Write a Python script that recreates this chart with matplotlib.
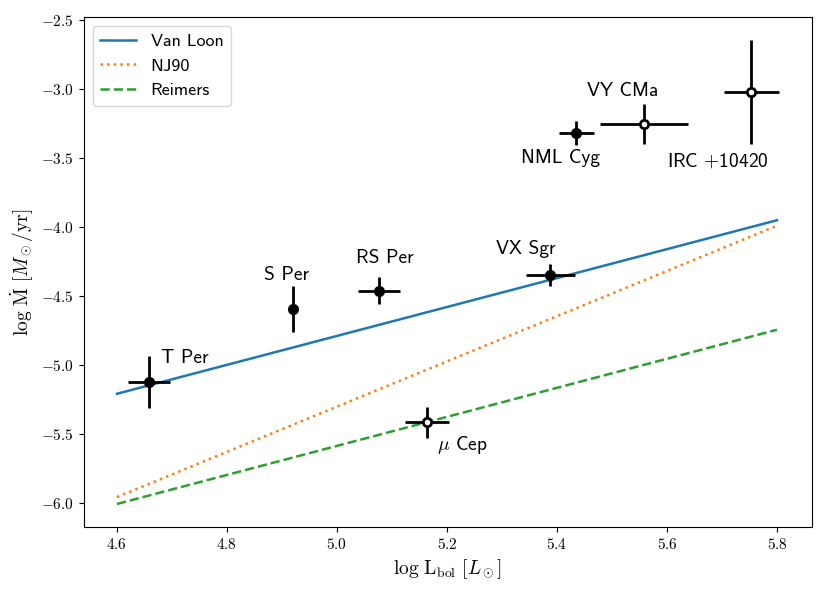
import numpy as np
import matplotlib
matplotlib.use('Agg')
import matplotlib.pyplot as plt
from matplotlib.ticker import FuncFormatter

plt.rcParams['mathtext.fontset'] = 'cm'

# mass loss prescriptions (end points at log L = 4.6 and 5.8)
line_x = [4.6, 5.8]
vanloon_y = [-5.21, -3.95]
nj90_y = [-5.96, -3.99]
reimers_y = [-6.01, -4.745]

# stars: name, log L, dlogL, log Mdot, dlogMdot, open marker?
names = ['T Per', 'S Per', 'RS Per', 'VX Sgr', r'$\mu$ Cep', 'NML Cyg', 'VY CMa', r'IRC $+$10420']
logL = [4.658, 4.920, 5.077, 5.388, 5.163, 5.435, 5.558, 5.753]
logL_err = [0.038, 0.006, 0.038, 0.045, 0.040, 0.032, 0.080, 0.050]
logM = [-5.123, -4.594, -4.461, -4.348, -5.418, -3.316, -3.254, -3.019]
logM_err = [0.187, 0.167, 0.100, 0.083, 0.115, 0.088, 0.146, 0.375]
is_open = [False, False, False, False, True, False, True, True]

# label positions and alignment
lab_x = [4.68, 4.909, 5.088, 5.343, 5.181, 5.406, 5.519, 5.693]
lab_y = [-4.949, -4.348, -4.225, -4.16, -5.58, -3.50, -3.01, -3.522]
lab_ha = ['left', 'center', 'center', 'center', 'left', 'center', 'center', 'center']

fig = plt.figure(figsize=(8.3, 5.91), dpi=100)
ax = fig.add_axes([0.101, 0.108, 0.877, 0.863])

ax.plot(line_x, vanloon_y, '-', color='tab:blue', lw=1.8, label='Van Loon')
ax.plot(line_x, nj90_y, ':', color='tab:orange', lw=1.8, label='NJ90')
ax.plot(line_x, reimers_y, '--', color='tab:green', lw=1.8, label='Reimers')

for i in range(len(names)):
	face = 'white' if is_open[i] else 'black'
	ax.errorbar(logL[i], logM[i], xerr=logL_err[i], yerr=logM_err[i], fmt='o',
				color='black', mfc=face, mec='black', mew=2, ms=6, elinewidth=2, capsize=0, zorder=3)
	ax.text(lab_x[i], lab_y[i], names[i], ha=lab_ha[i], va='center', fontsize=14, family='cmss10')

ax.set_xticks([4.6, 4.8, 5.0, 5.2, 5.4, 5.6, 5.8])
ax.set_yticks([-6.0, -5.5, -5.0, -4.5, -4.0, -3.5, -3.0, -2.5])
fmt = FuncFormatter(lambda v, p: r'$%.1f$' % v)
ax.xaxis.set_major_formatter(fmt)
ax.yaxis.set_major_formatter(fmt)
ax.tick_params(labelsize=11)

ax.set_xlabel(r'$\log\,{\rm L_{bol}}\ [L_\odot]$', fontsize=14)
ax.set_ylabel(r'$\log\,\dot{\rm M}\ [M_\odot/{\rm yr}]$', fontsize=14)

leg = ax.legend(loc='upper left', prop={'family': 'cmss10', 'size': 13})

fig.savefig('out.png', dpi=100)
